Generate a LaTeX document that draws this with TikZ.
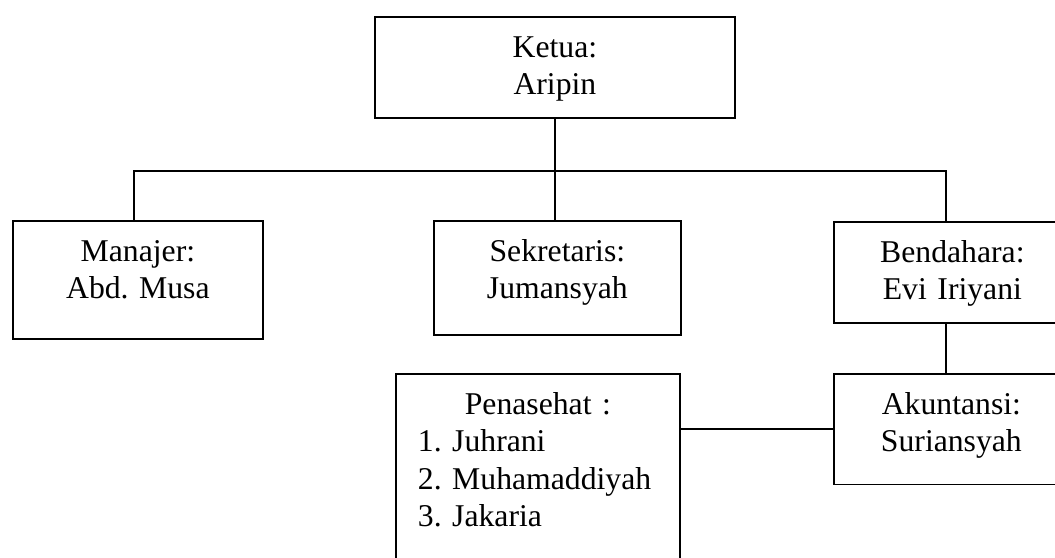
\documentclass[tikz,border=0pt]{standalone}
\usepackage{fontspec}
\setmainfont{Liberation Serif}
\usepackage{tikz}
\usetikzlibrary{positioning}
\frenchspacing
\tikzset{every picture/.style={line width=1.8pt}}
\tikzstyle{kotak}=[draw,anchor=north west,inner sep=0pt,align=center,text height=40.5pt,font=\fontsize{31.7pt}{37.3pt}\selectfont]

\begin{document}
\begin{tikzpicture}[x=1pt,y=-1pt]
\useasboundingbox (0,0) rectangle (1055,557);
\node[kotak,text width=360pt,text depth=60.5pt] (K) at (374,16) {Ketua:\\Aripin};
\node[kotak,text width=250pt,text depth=77.5pt] (M) at (12,220) {Manajer:\\Abd. Musa};
\node[kotak,text width=247pt,text depth=73.5pt] (S) at (433,220) {Sekretaris:\\Jumansyah};
\node[kotak,text width=237pt,text depth=60.5pt] (B) at (833,221) {Bendahara:\\Evi Iriyani};
\node[kotak,text width=235pt,text depth=70pt] (A) at (833,373) {Akuntansi:\\Suriansyah};
\node[kotak,text width=284pt,text depth=170pt,align=left] (P) at (395,373)
  {\makebox[\linewidth]{Penasehat :}\\
   \hspace*{22pt}1. Juhrani\\
   \hspace*{22pt}2. Muhamaddiyah\\
   \hspace*{22pt}3. Jakaria};
\coordinate (kiri) at (134,170.7);
\coordinate (kanan) at (946,170.7);
\draw (K.south) -- (K.south |- S.north);
\draw (kiri |- M.north) -- (kiri) -- (kanan) -- (kanan |- B.north);
\draw (kanan |- B.south) -- (kanan |- A.north);
%\draw (P.east) -- (A.west);
\draw (P.east |- A.west) -- (A.west);
\end{tikzpicture}
\end{document}
